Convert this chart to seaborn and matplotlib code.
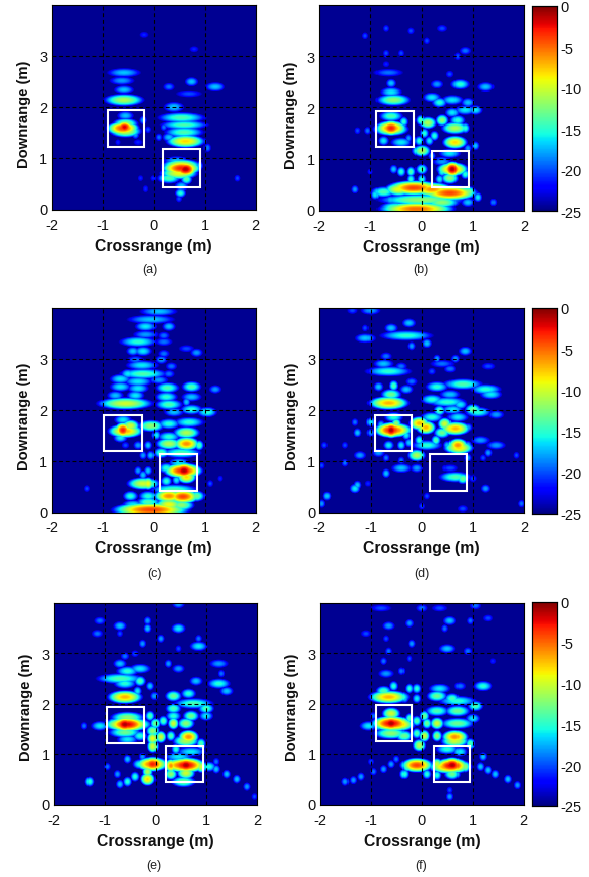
import numpy as np
import matplotlib
matplotlib.use("Agg")
import matplotlib.pyplot as plt
from matplotlib.patches import Rectangle
import seaborn as sns

W, H = 589, 878
X_MIN, X_MAX, Y_MIN, Y_MAX = -2.0, 2.0, -0.02, 4.0
FLOOR_DB = -24.6
XTICKS = [-2, -1, 0, 1, 2]
YTICKS = [0, 1, 2, 3]
CBAR_TICKS = [-25, -20, -15, -10, -5, 0]
CAPTIONS = ["(a)", "(b)", "(c)", "(d)", "(e)", "(f)"]

# Image lobes: (crossrange m, downrange m, width m, level dB)
LOBES_A = [(-.57,1.6,.16,-2),(-.6,1.58,.3,-4),(.55,.8,.35,-3),(-.55,1.52,.35,-10),(-.55,1.68,.3,-12),(-.55,1.84,.25,-17),(-.35,1.45,.1,-18),
 (-.3,1.3,.2,-21),(-.7,1.3,.1,-21),(-.58,2.13,.45,-11),(-.58,2.34,.3,-17),(-.62,2.52,.4,-18),(-.58,2.68,.5,-17),
 (-.2,1.75,.1,-18),(-.1,1.55,.1,-20),(-.18,3.42,.2,-21),(.8,3.13,.2,-21),(.75,2.5,.2,-17),(1.2,2.4,.3,-17),
 (.7,2.25,.5,-20),(.3,2.4,.2,-19),(.4,2.0,.3,-17),(.55,1.8,.6,-14),(.6,1.65,.6,-14),(.6,1.5,.5,-14),
 (.63,1.32,.4,-8),(.3,1.4,.2,-17),(.1,1.4,.1,-19),(.2,1.6,.1,-19),(.63,.78,.2,-1),(.55,.85,.4,-8),(.5,.7,.4,-9),
 (.3,.6,.3,-14),(.65,.58,.15,-14),(.45,.95,.4,-17),(.55,.45,.2,-17),(.53,.32,.15,-15),(.5,.2,.1,-20),
 (.9,.85,.1,-17),(1.05,1.2,.1,-19),(1.65,.6,.1,-20),(0,.6,.1,-21),(-.25,.6,.1,-21),(-.15,.4,.1,-21)]
LOBES_B = [(-.6,1.6,.2,-3),(-.6,1.6,.3,-5),(-.6,1.58,.35,-8),(-.6,1.83,.3,-14),(-.35,1.72,.1,-15),(-.4,1.32,.3,-16),(-.75,1.35,.15,-16),
 (-.25,1.4,.1,-18),(-1.25,1.55,.1,-20),(-1.05,1.55,.1,-19),(-.55,2.15,.4,-12),(-.6,2.3,.3,-16),(-.6,2.47,.15,-17),
 (-.65,2.68,.5,-19),(-.7,2.85,.15,-21),(-.4,3.05,.1,-20),(-.7,3.05,.1,-20),(-1.1,3.4,.1,-20),(-.7,3.55,.1,-20),
 (-.2,3.5,.15,-20),(.4,3.55,.2,-20),(.1,3.3,.1,-20),(.85,3.1,.2,-19),(.7,3.0,.1,-20),(.55,2.65,.15,-20),(.3,2.45,.2,-18),
 (.75,2.45,.25,-15),(1.25,2.4,.25,-17),(.2,2.2,.25,-16),(.35,2.1,.2,-15),(.6,2.15,.3,-16),(.9,2.1,.2,-17),(.85,1.95,.3,-16),
 (1.05,1.95,.2,-16),(.6,1.9,.2,-16),(-.02,1.75,.1,-14),(.12,1.7,.2,-11),(.4,1.75,.15,-12),(.7,1.75,.2,-15),(.65,1.6,.3,-11),
 (.85,1.6,.1,-15),(.05,1.5,.1,-15),(.25,1.45,.1,-15),(-.05,1.35,.1,-15),(.15,1.35,.1,-16),(.65,1.32,.25,-8),(1.05,1.25,.1,-17),
 (.9,1.2,.1,-18),(0,1.15,.2,-11),(.55,1.1,.3,-16),(.2,1.05,.1,-18),(.6,.8,.15,-1),(.6,.8,.3,-6),(.4,.75,.1,-15),(.55,.62,.2,-12),
 (.35,.6,.1,-16),(.85,.7,.1,-15),(.4,.95,.3,-18),(.0,.8,.15,-14),(-.2,.75,.1,-14),(-.4,.75,.1,-15),(-.55,.8,.1,-17),(.0,.6,.1,-15),
 (-.2,.6,.1,-15),(-1.0,.75,.1,-21),(-.15,.43,.5,-4),(.2,.4,.4,-6),(.55,.33,.5,-4),(.9,.35,.2,-12),(.0,.2,1.0,-12),(.4,.15,.4,-12),
 (-.45,.4,.3,-9),(-.75,.35,.3,-14),(-.9,.3,.1,-16),(-1.3,.4,.1,-18),(-.1,.02,.7,-5),(-.5,.05,.4,-13),(1.1,.25,.1,-16),
 (1.4,.15,.1,-19),(-.6,.2,.2,-17),(.9,.15,.2,-17)]
LOBES_C = [(.1,3.93,.55,-17),(-.05,3.77,.7,-17),(-.15,3.63,.3,-16),(.3,3.63,.2,-17),(-.15,3.47,.4,-18),(.2,3.45,.2,-19),
 (-.3,3.33,.5,-15),(.2,3.33,.3,-19),(-.4,3.15,.2,-17),(-.2,3.15,.25,-16),(.2,3.1,.2,-19),(.85,3.12,.2,-18),(.65,3.2,.3,-20),
 (-.35,2.98,.3,-19),(.15,2.98,.2,-18),(-.22,2.87,.45,-16),(.35,2.85,.2,-19),(-.5,2.7,.2,-16),(-.2,2.7,.6,-14),(.3,2.7,.2,-19),
 (-.65,2.6,.3,-16),(-.3,2.55,.4,-16),(.1,2.58,.3,-18),(-.65,2.45,.3,-16),(-.3,2.42,.3,-16),(.27,2.43,.3,-14),(.75,2.45,.25,-14),
 (1.2,2.4,.2,-18),(-.75,2.28,.25,-17),(-.35,2.28,.25,-16),(.25,2.25,.3,-15),(.75,2.25,.3,-17),(-.55,2.12,.6,-10),(.3,2.1,.35,-14),
 (.65,2.15,.1,-17),(.75,2.0,.3,-15),(1.05,1.95,.25,-15),(.4,1.95,.3,-17),(-.6,1.6,.15,-3),(-.55,1.58,.35,-7),(-.45,1.68,.2,-10),
 (-.6,1.8,.25,-16),(-.65,1.45,.2,-16),(-.3,1.3,.15,-18),(-.55,1.3,.15,-20),(-.05,1.68,.3,-12),(.3,1.72,.3,-15),(.7,1.75,.4,-15),
 (.65,1.55,.3,-11),(.05,1.5,.1,-16),(.3,1.47,.3,-15),(.3,1.33,.3,-11),(.65,1.33,.25,-6),(.9,1.3,.1,-14),(.15,1.15,.2,-14),
 (.55,1.15,.5,-14),(-.1,1.3,.1,-17),(-.2,1.1,.1,-18),(-.05,1.1,.1,-17),(.6,.8,.2,-1),(.58,.8,.35,-3),(.58,.78,.35,-7),(.65,.68,.2,-8),(.25,.85,.2,-15),
 (.25,.6,.15,-15),(.45,.62,.1,-16),(.5,.95,.3,-16),(-.2,.72,.1,-17),(-.3,.8,.1,-18),(-.1,.8,.1,-17),(-.2,.55,.35,-10),(-.1,.55,.1,-9),
 (.4,.43,.6,-14),(.3,.3,.3,-6),(.58,.29,.3,-4),(.85,.3,.2,-13),(-.1,.3,.25,-15),(-.45,.3,.2,-15),(-.4,.13,.3,-16),(-.1,.18,.3,-14),
 (.3,.13,.3,-9),(.55,.12,.3,-12),(-.05,.03,.7,-4),(1.1,.55,.1,-20),(1.3,.65,.1,-21),(-1.3,.45,.1,-20)]
LOBES_D = [(-.6,1.6,.15,-1),(-.6,1.6,.3,-3),(-.55,1.6,.35,-5),(-.5,1.72,.1,-12),(-.65,2.13,.4,-7),(-.6,2.3,.25,-13),(-.55,2.47,.1,-14),(-.65,2.75,.6,-15),
 (-.75,2.9,.3,-17),(-.4,2.85,.2,-19),(-.85,2.45,.15,-17),(-.3,2.4,.2,-17),(-.2,2.55,.2,-19),(-.3,3.45,.7,-15),(-.6,3.6,.2,-17),
 (-.25,3.7,.2,-17),(-1.1,3.6,.1,-20),(-1.1,3.4,.3,-17),(-.7,3.05,.2,-19),(-1.0,3.95,.3,-18),(-1.35,3.95,.2,-20),(-.2,3.25,.1,-18),
 (.1,3.3,.15,-17),(.65,3.0,.15,-18),(.85,3.15,.2,-17),(.4,2.9,.4,-19),(.3,3.0,.1,-18),(.55,2.8,.2,-19),(1.3,2.85,.25,-20),(.2,2.75,.15,-20),
 (.8,2.5,.5,-14),(1.25,2.4,.4,-15),(1.35,2.3,.3,-16),(.3,2.45,.3,-15),(.55,2.3,.3,-17),(.2,2.2,.3,-15),(.5,2.15,.5,-15),(.6,2,.3,-16),
 (.35,1.98,.15,-14),(1.0,2,.2,-13),(.75,2.1,.2,-16),(1.1,1.95,.35,-15),(1.45,1.9,.25,-18),(-.05,1.73,.2,-7),(.08,1.65,.2,-7),(.45,1.72,.15,-10),
 (.65,1.63,.3,-7),(.4,1.55,.2,-13),(.2,1.85,.3,-15),(.7,1.85,.3,-16),(.9,1.65,.15,-18),(.7,1.3,.2,-6),(.72,1.25,.3,-8),(.28,1.4,.1,-14),
 (.1,1.3,.4,-15),(-.1,1.1,.2,-11),(.5,1.3,.1,-17),(.9,1.3,.1,-17),(1.15,1.4,.3,-18),(1.45,1.3,.3,-18),(1.3,1.15,.1,-18),(-.05,1.4,.1,-15),
 (-.25,1.35,.1,-17),(-.8,1.7,.1,-17),(-.65,1.3,.15,-16),(-.55,1.85,.25,-15),(-.4,1.3,.1,-16),(-.3,1.5,.1,-16),(-1.25,1.55,.1,-17),
 (-1.3,1.75,.1,-19),(-1.0,1.55,.1,-18),(-1.0,1.75,.1,-16),(-1.2,1.1,.2,-18),(-1.5,1.3,.1,-20),(-1.9,1.3,.1,-20),(-1.5,.95,.1,-19),
 (-1.95,.9,.1,-20),(-.85,1.15,.2,-18),(-.7,1.05,.1,-19),(-.4,1.0,.1,-19),(-.4,.85,.3,-17),(-.7,.75,.1,-17),(-.1,.85,.2,-18),(-1.3,.45,.15,-16),
 (-1.25,.52,.1,-17),(-1.85,.3,.1,-17),(-1.95,.15,.1,-18),(-1.05,.55,.1,-21),(.45,.85,.1,-21),(.65,.68,.4,-14),(.8,.65,.15,-13),(.55,.85,.3,-20),
 (1.25,.45,.15,-18),(1.0,.65,.15,-20),(.8,.05,.2,-20),(1.95,.15,.1,-19),(.1,.3,.1,-20),(0,.1,.1,-20),(1.85,1.1,.1,-20),(1.2,1.05,.1,-20),(.9,1.05,.1,-18)]
LOBES_E = [(-.6,1.58,.2,-1),(-.55,1.58,.35,-2),(-.55,1.58,.45,-5),(-.55,1.72,.4,-12),(-.6,1.42,.4,-13),(-.85,1.6,.1,-14),(-.3,1.6,.1,-14),(-.3,1.35,.2,-15),
 (-.55,1.28,.3,-16),(-1.1,1.55,.25,-16),(-1.4,1.55,.1,-19),(-.6,2.13,.35,-7),(-.6,2.4,.3,-15),(-.35,2.25,.1,-16),(-.3,2.45,.15,-14),
 (-.7,2.5,.6,-14),(-.55,2.65,.3,-15),(-.3,2.7,.3,-16),(-.7,2.8,.2,-17),(-.6,2.95,.15,-19),(-.4,3,.15,-20),(-1,2.5,.1,-19),(-.7,3.55,.2,-17),
 (-1.1,3.65,.2,-19),(-1.15,3.4,.2,-19),(-.7,3.4,.1,-20),(-.15,3.65,.1,-18),(-.15,3.5,.1,-17),(.45,3.5,.2,-16),(.1,3.3,.1,-18),(.85,3.15,.25,-16),
 (.45,3.1,.1,-20),(.45,3.98,.2,-18),(-.25,3.2,.1,-18),(.85,3.3,.1,-19),(.25,2.8,.1,-18),(.45,2.7,.2,-18),(1.25,2.8,.3,-18),(1.3,2.6,.1,-19),
 (1.25,2.4,.3,-15),(1.4,2.25,.2,-17),(.8,2.45,.2,-17),(-.1,2.35,.1,-17),(-.02,2.15,.1,-18),(.35,2.15,.2,-13),(.65,2.2,.2,-15),(.35,1.9,.2,-14),
 (.75,2.0,.5,-14),(1.0,1.9,.2,-14),(.35,1.75,.2,-15),(.7,1.75,.2,-13),(1.0,1.75,.2,-16),(.15,1.65,.1,-14),(.35,1.6,.1,-10),(.6,1.6,.2,-12),
 (.0,1.6,.1,-13),(-.1,1.75,.1,-14),(-.05,1.45,.15,-12),(.3,1.35,.1,-14),(-.05,1.3,.1,-9),(.1,1.33,.1,-10),(-.05,1.15,.1,-10),(.65,1.33,.2,-6),
 (.6,1.25,.3,-11),(.9,1.2,.1,-14),(.4,1.1,.1,-15),(.7,1.05,.4,-16),(-.05,.8,.2,-3),(-.07,.8,.3,-5),(.3,.77,.1,-6),(.6,.78,.2,-1),(.6,.78,.35,-2),(.55,.78,.4,-4),
 (.9,.75,.1,-10),(.3,.6,.15,-12),(.6,.62,.2,-10),(.45,.95,.4,-16),(.55,.45,.3,-13),(-.15,.5,.15,-8),(-.15,.65,.1,-11),(-.4,.55,.1,-15),
 (-.55,.45,.1,-15),(-.7,.4,.1,-17),(-.75,.6,.1,-18),(-1.3,.45,.1,-15),(-.95,.75,.1,-19),(-.3,.8,.2,-15),(-.55,.9,.1,-17),(-.25,.95,.1,-18),
 (1.2,.7,.1,-17),(1.4,.6,.1,-17),(1.6,.5,.1,-17),(1.8,.35,.1,-18),(1.95,.15,.1,-20),(1.05,.75,.2,-15),(1.2,.85,.1,-19)]
LOBES_F = [(-.6,1.6,.2,-1),(-.6,1.6,.35,-2),(-.55,1.58,.4,-5),(-.6,1.8,.2,-10),(-.6,1.4,.4,-12),(-.35,1.35,.2,-13),(-.25,1.7,.1,-14),(-.85,1.55,.1,-15),
 (-1.05,1.55,.25,-16),(-.95,1.75,.1,-19),(-.65,2.13,.4,-7),(-.75,2.25,.2,-14),(-.55,2.35,.1,-15),(-.35,2.1,.1,-17),(-.25,2.3,.1,-15),(-.1,2.1,.1,-16),
 (-.1,2.3,.1,-15),(-.7,2.6,.25,-18),(-.75,2.85,.1,-19),(-.4,2.65,.1,-19),(.3,2.15,.25,-13),(.6,2.1,.2,-14),(.35,2.3,.3,-16),(.75,2.35,.2,-19),
 (1.2,2.35,.25,-15),(.7,2.05,.5,-15),(.3,1.85,.3,-14),(.7,1.85,.3,-13),(1.05,1.95,.2,-14),(1.0,1.7,.2,-16),(.3,1.6,.15,-10),(.7,1.6,.4,-13),(.1,1.6,.1,-13),
 (.05,1.75,.1,-13),(-.1,1.65,.1,-14),(-.1,1.4,.1,-14),(.05,1.35,.1,-10),(.3,1.35,.1,-12),(.65,1.33,.25,-6),(.65,1.25,.3,-10),(.95,1.2,.1,-14),
 (-.05,1.17,.15,-11),(.5,1.1,.3,-15),(1.2,.95,.1,-17),(.75,1.05,.2,-16),(.6,.78,.2,-1),(.58,.77,.3,-2),(.55,.75,.4,-5),(.3,.8,.1,-10),(.85,.75,.1,-12),(.6,.6,.2,-13),
 (.3,.58,.1,-15),(-.1,.78,.3,-4),(-.3,.75,.1,-13),(-.35,.6,.1,-15),(.1,.6,.1,-15),(1.15,.75,.1,-17),(1.3,.68,.1,-17),(1.45,.6,.1,-17),(1.7,.5,.1,-17),
 (1.87,.38,.1,-18),(.55,.15,.1,-18),(.55,.28,.1,-20),(-.6,.8,.1,-18),(-.75,.7,.1,-18),(-.95,.65,.1,-19),(-1.2,.55,.1,-18),(-1.35,.48,.1,-18),(-1.5,.45,.1,-18),
 (-.5,.9,.1,-19),(-1.0,.85,.1,-20),(-.65,3.55,.2,-18),(-1.1,3.4,.2,-20),(-.25,3.6,.15,-18),(.55,3.65,.2,-17),(.45,3.5,.1,-19),(.5,3.1,.25,-17),
 (.9,3.05,.15,-19),(.95,3.65,.1,-19),(1.3,3.7,.2,-20),(-.2,3.2,.1,-18),(-.65,3.05,.1,-19),(-.8,3.9,.4,-20),(.0,3.9,.2,-19),(1.05,3.95,.2,-19),
 (.35,3.9,.3,-20),(-.7,3.3,.1,-20),(1.4,2.85,.15,-21),(-.25,2.9,.1,-20)]
ALL_LOBES = [LOBES_A, LOBES_B, LOBES_C, LOBES_D, LOBES_E, LOBES_F]

# White target boxes: (x0, x1, y0, y1) in metres
BOXES = [[(-.9,-.18,1.22,1.94),(.18,.91,.44,1.17)],
         [(-.88,-.15,1.22,1.93),(.21,.93,.44,1.16)],
         [(-.97,-.23,1.18,1.9),(.12,.85,.41,1.13)],
         [(-.92,-.2,1.18,1.9),(.16,.89,.4,1.13)],
         [(-.95,-.22,1.22,1.93),(.21,.94,.43,1.16)],
         [(-.91,-.19,1.26,1.97),(.23,.95,.43,1.16)]]

# Layout in pixels: left, right, top, bottom
AX_PX = [(51.5,255.5,6,211),(319,524.3,6,212),(51.5,255.5,308.7,513.5),(319.3,524.3,308.7,513.5),(54,257,604.3,806),(320,523.7,604.3,806)]
CB_PX = {1:(531.7,556.7,7,212), 3:(531.7,556.7,309,515), 5:(531.7,556.7,603,807)}
CAP_PX = [(150,270),(421,270),(154,574),(422,574),(154,866),(421,866)]
YLABEL_POS = [.47, .47, .475, .475, .49, .49]

# Rendered lobe shape: dB drop at the lobe edge, lobe height (m) and width scale
EDGE_DROP_DB = 6.0
LOBE_HEIGHT = .17
WIDTH_SCALE = 1.25

sns.set_theme(style="white")
plt.rcParams['font.family'] = ['Liberation Sans', 'DejaVu Sans']
plt.rcParams['xtick.direction'] = 'in'
plt.rcParams['ytick.direction'] = 'in'

NX, NY = 200, 200
dx = (X_MAX - X_MIN) / NX
dy = (Y_MAX - Y_MIN) / NY
xc = X_MIN + (np.arange(NX) + .5) * dx
yc = Y_MIN + (np.arange(NY) + .5) * dy
XX, YY = np.meshgrid(xc, yc)

def to_col(x):
    return (np.asarray(x, float) - X_MIN) / dx

def to_row(y):
    return (np.asarray(y, float) - Y_MIN) / dy

def build(lobes):
    g = np.full((NY, NX), FLOOR_DB)
    for x, y, w, db in lobes:
        half_w = max(w, .12) * WIDTH_SCALE / 2
        level = db - EDGE_DROP_DB * (((XX - x) / half_w) ** 2 + ((YY - y) / (LOBE_HEIGHT / 2)) ** 2)
        g = np.maximum(g, level)
    return g

def axpx(l, r, t, b):
    return [l / W, 1 - b / H, (r - l) / W, (b - t) / H]

fig = plt.figure(figsize=(W / 100, H / 100), dpi=100)
for i, lobes in enumerate(ALL_LOBES):
    grid = build(lobes)
    ax = fig.add_axes(axpx(*AX_PX[i]))
    cax = fig.add_axes(axpx(*CB_PX[i])) if i in CB_PX else None
    sns.heatmap(grid, ax=ax, cmap="jet", vmin=-25, vmax=0, cbar=cax is not None, cbar_ax=cax,
                xticklabels=False, yticklabels=False, rasterized=True)
    ax.set_xlim(0, NX)
    ax.set_ylim(0, NY)
    ax.set_xticks(to_col(XTICKS))
    ax.set_xticklabels([str(v) for v in XTICKS], fontsize=10.5, color="#111111", rotation=0)
    ax.set_yticks(to_row(YTICKS))
    ax.set_yticklabels([str(v) for v in YTICKS], fontsize=10.5, color="#111111", rotation=0)
    ax.tick_params(axis="x", length=2.5, width=.7, color="black", pad=5.5, bottom=True)
    ax.tick_params(axis="y", length=2.5, width=.7, color="black", pad=3, left=True)
    for v in XTICKS[1:-1]:
        ax.axvline(to_col(v), color="black", ls=(0, (3.5, 2.5)), lw=.8, zorder=3)
    for v in YTICKS[1:]:
        ax.axhline(to_row(v), color="black", ls=(0, (3.5, 2.5)), lw=.8, zorder=3)
    for x0, x1, y0, y1 in BOXES[i]:
        ax.add_patch(Rectangle((to_col(x0), to_row(y0)), to_col(x1) - to_col(x0), to_row(y1) - to_row(y0),
                               fill=False, ec="white", lw=1.5, zorder=4))
    for s in ax.spines.values():
        s.set_visible(True)
        s.set_color("black")
        s.set_linewidth(.8)
    ax.set_xlabel("Crossrange (m)", fontsize=11.3, fontweight="bold", color="#111111", labelpad=4.5)
    ax.set_ylabel("Downrange (m)", fontsize=10.6, fontweight="bold", color="#111111", labelpad=6, y=YLABEL_POS[i])
    cx, cy = CAP_PX[i]
    fig.text(cx / W, 1 - cy / H, CAPTIONS[i], fontsize=9, ha="center", va="center", color="#222222")
    if cax is not None:
        cax.set_yticks(CBAR_TICKS)
        cax.set_yticklabels([str(v) for v in CBAR_TICKS], fontsize=10.5, color="#111111")
        cax.tick_params(axis="y", direction="in", length=2.5, width=.7, color="black", right=True, left=False, pad=2.5)
        for s in cax.spines.values():
            s.set_visible(True)
            s.set_color("black")
            s.set_linewidth(.8)

fig.savefig("out.png", dpi=100)
